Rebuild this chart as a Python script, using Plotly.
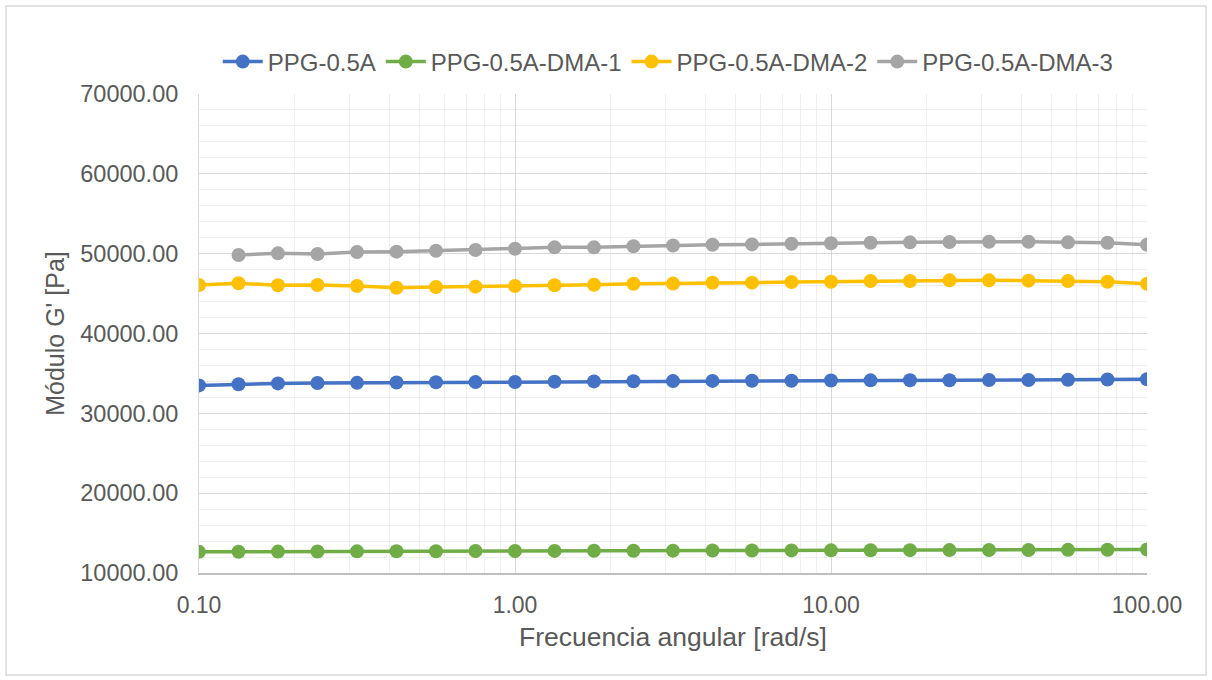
import plotly.graph_objects as go

# Angular frequency sweep (rad/s), 8 points per decade
frecuencia = [0.1, 0.1334, 0.1778, 0.2371, 0.3162, 0.4217, 0.5623, 0.7499,
              1.0, 1.334, 1.778, 2.371, 3.162, 4.217, 5.623, 7.499,
              10.0, 13.34, 17.78, 23.71, 31.62, 42.17, 56.23, 74.99, 100.0]

# Storage modulus G' (Pa)
g_ppg_05a = [33500, 33650, 33750, 33800, 33820, 33870, 33890, 33910,
             33930, 33970, 34000, 34020, 34040, 34060, 34080, 34090,
             34110, 34130, 34140, 34150, 34170, 34180, 34200, 34230, 34260]
g_dma_1 = [12650, 12670, 12680, 12700, 12710, 12720, 12730, 12750,
           12760, 12770, 12780, 12790, 12800, 12810, 12820, 12830,
           12840, 12850, 12860, 12870, 12880, 12890, 12900, 12920, 12950]
g_dma_2 = [46080, 46290, 46040, 46070, 45950, 45740, 45820, 45870,
           45950, 46040, 46110, 46240, 46250, 46360, 46370, 46450,
           46490, 46570, 46580, 46660, 46660, 46620, 46570, 46490, 46240]
# first frequency not recorded for this sample
g_dma_3 = [None, 49830, 50040, 49960, 50210, 50250, 50370, 50460,
           50620, 50790, 50790, 50920, 51030, 51120, 51160, 51250,
           51300, 51370, 51420, 51460, 51500, 51500, 51420, 51370, 51120]

series_names = ["PPG-0.5A", "PPG-0.5A-DMA-1", "PPG-0.5A-DMA-2", "PPG-0.5A-DMA-3"]
series_values = [g_ppg_05a, g_dma_1, g_dma_2, g_dma_3]
series_colors = ["#4472C4", "#70AD47", "#FFC000", "#A5A5A5"]

x_tickvals = [0.1, 1, 10, 100]
x_ticktext = ["0.10", "1.00", "10.00", "100.00"]

TEXT = "#595959"
FONT = "Liberation Sans, Arial, sans-serif"

fig = go.Figure()
for name, vals, col in zip(series_names, series_values, series_colors):
    fig.add_trace(go.Scatter(
        x=frecuencia, y=vals, name=name, mode="lines+markers",
        line=dict(color=col, width=3.5),
        marker=dict(color=col, size=14),
        connectgaps=False,
    ))

minor_x = [m * 10 ** e for e in (-1, 0, 1) for m in range(2, 10)]

W, H = 1212, 680
ml, mr, mt, mb = 199, 65, 94, 107
pw, ph = W - ml - mr, H - mt - mb

fig.update_layout(
    width=W, height=H,
    margin=dict(l=ml, r=mr, t=mt, b=mb),
    paper_bgcolor="white", plot_bgcolor="white",
    font=dict(family=FONT, color=TEXT, size=23),
    showlegend=True,
    legend=dict(orientation="h", x=0.495, xanchor="center", y=1.0 + 32 / ph,
                yanchor="middle", font=dict(size=24, color=TEXT),
                itemwidth=40, bgcolor="rgba(0,0,0,0)"),
    xaxis=dict(
        type="log", range=[-1, 2],
        tickmode="array", tickvals=x_tickvals, ticktext=x_ticktext,
        showgrid=True, gridcolor="#D9D9D9", gridwidth=1,
        minor=dict(tickmode="array", tickvals=minor_x, showgrid=True,
                   gridcolor="#EFEFEF", gridwidth=1, ticks=""),
        showline=True, linecolor="#BFBFBF", linewidth=1.5,
        ticks="", ticklabelstandoff=11,
        tickfont=dict(size=23, color=TEXT),
        zeroline=False,
        title=dict(text="Frecuencia angular [rad/s]", font=dict(size=26.5, color=TEXT),
                   standoff=10),
    ),
    yaxis=dict(
        range=[10000, 70000], dtick=10000, tick0=10000, tickformat=".2f",
        showgrid=True, gridcolor="#D9D9D9", gridwidth=1,
        minor=dict(dtick=2000, showgrid=True, gridcolor="#EFEFEF",
                   gridwidth=1, ticks=""),
        showline=True, linecolor="#D9D9D9", linewidth=1,
        ticks="", ticklabelstandoff=15,
        tickfont=dict(size=23.5, color=TEXT),
        zeroline=False,
        title=dict(text="Módulo G' [Pa]", font=dict(size=25, color=TEXT),
                   standoff=8),
    ),
)

# outer chart frame
fig.add_shape(type="rect", xref="paper", yref="paper",
              x0=-(ml - 6) / pw, x1=1 + (mr - 6) / pw,
              y0=-(mb - 5) / ph, y1=1 + (mt - 6) / ph,
              line=dict(color="#D9D9D9", width=1.5), fillcolor="rgba(0,0,0,0)",
              layer="below")

fig.write_html("out.html")
